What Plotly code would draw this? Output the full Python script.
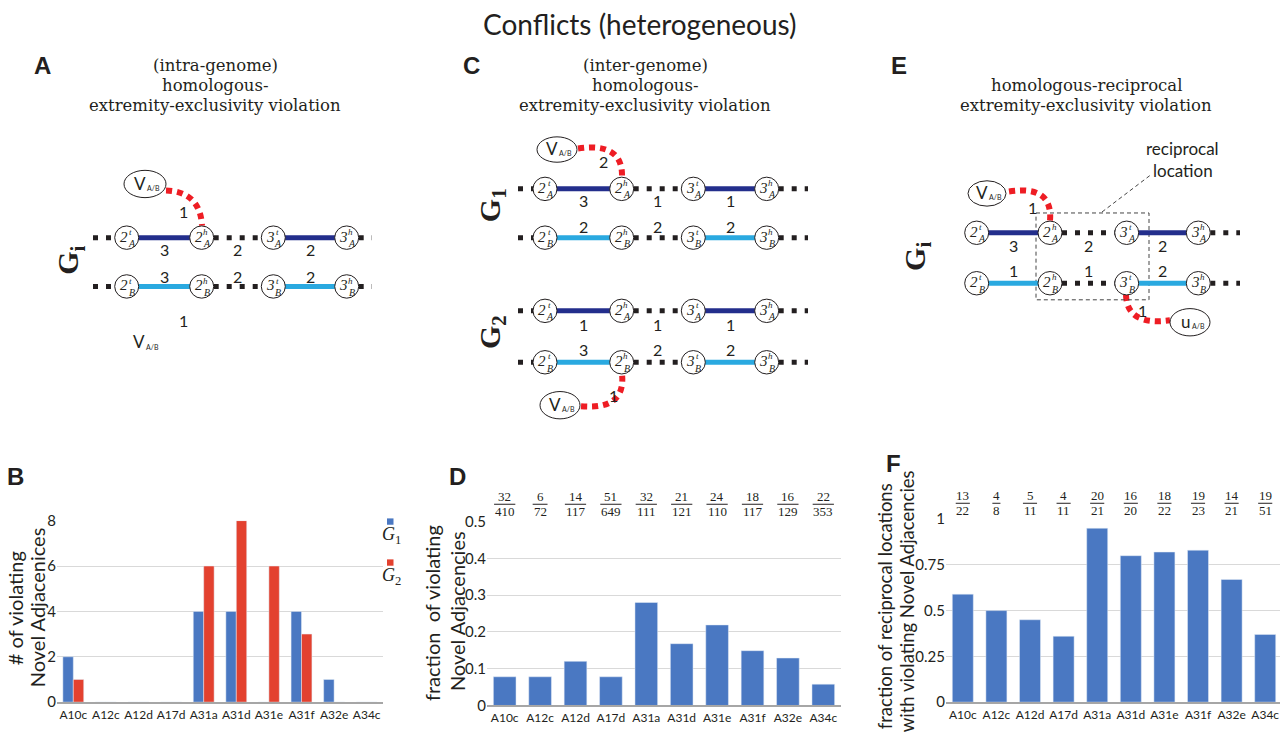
import plotly.graph_objects as go

W, H = 1280, 744

# ---------------- data ----------------
categories = ["A10c", "A12c", "A12d", "A17d", "A31a", "A31d", "A31e", "A31f", "A32e", "A34c"]
b_g1 = [2, 0, 0, 0, 4, 4, 0, 4, 1, 0]
b_g2 = [1, 0, 0, 0, 6, 8, 6, 3, 0, 0]
b_yticks = [0, 2, 4, 6, 8]
d_frac = [0.078, 0.078, 0.12, 0.078, 0.28, 0.168, 0.219, 0.149, 0.129, 0.058]
d_num = [32, 6, 14, 51, 32, 21, 24, 18, 16, 22]
d_den = [410, 72, 117, 649, 111, 121, 110, 117, 129, 353]
d_yticks = [0, 0.1, 0.2, 0.3, 0.4, 0.5]
f_frac = [0.59, 0.50, 0.45, 0.36, 0.95, 0.80, 0.82, 0.83, 0.67, 0.37]
f_num = [13, 4, 5, 4, 20, 16, 18, 19, 14, 19]
f_den = [22, 8, 11, 11, 21, 20, 22, 23, 21, 51]
f_yticks = [0, 0.25, 0.5, 0.75, 1]
f_yticktext = ["0", "0.25", "0.5", "0.75", "1"]

# ---------------- style ----------------
SANS = "Lato"
SERIF = "DejaVu Serif"
TSERIF = "Liberation Serif"
BOLD = "Liberation Sans"
INK = "#231F20"
BAR_BLUE = "#4A78C2"
BAR_RED = "#E3412F"
DARK = "#232E8C"
LIGHT = "#2AA9E0"
RED = "#EE1D24"
GRID = "#D9D9D9"


def fx(x):
    return x / W


def fy(y):
    return 1 - y / H


fig = go.Figure()

# ---------------- bar charts ----------------
fig.add_trace(go.Bar(x=categories, y=b_g1, marker_color=BAR_BLUE, name="G1",
                     xaxis="x", yaxis="y", showlegend=False))
fig.add_trace(go.Bar(x=categories, y=b_g2, marker_color=BAR_RED, name="G2",
                     xaxis="x", yaxis="y", showlegend=False))
fig.add_trace(go.Bar(x=categories, y=d_frac, marker_color=BAR_BLUE, width=0.64,
                     xaxis="x2", yaxis="y2", showlegend=False))
fig.add_trace(go.Bar(x=categories, y=f_frac, marker_color=BAR_BLUE, width=0.625,
                     xaxis="x3", yaxis="y3", showlegend=False))
# invisible anchor for the drawing overlay
fig.add_trace(go.Scatter(x=[0], y=[0], xaxis="x4", yaxis="y4", mode="markers",
                         marker=dict(opacity=0), hoverinfo="skip", showlegend=False))

xcommon = dict(type="category", showgrid=False, showline=True, linecolor="#A6A6A6",
               linewidth=2, ticks="", tickfont=dict(family=SANS, size=12, color=INK),
               fixedrange=True)
ycommon = dict(showgrid=True, gridcolor=GRID, gridwidth=1, zeroline=False, showline=False,
               ticks="", tickfont=dict(family=SANS, size=15, color=INK), fixedrange=True)

fig.update_layout(
    xaxis=dict(domain=[fx(57), fx(383)], anchor="y", range=[-0.5, 9.5], **xcommon),
    yaxis=dict(domain=[fy(709.3), fy(523.3)], anchor="x", range=[0, 8], tickvals=b_yticks, **ycommon),
    xaxis2=dict(domain=[fx(487), fx(841)], anchor="y2", range=[-0.5, 9.5], **xcommon),
    yaxis2=dict(domain=[fy(712.7), fy(524.3)], anchor="x2", range=[0, 0.5], tickvals=d_yticks, **ycommon),
    xaxis3=dict(domain=[fx(946), 1.0], anchor="y3", range=[-0.5, 9.44], **xcommon),
    yaxis3=dict(domain=[fy(709.3), fy(521.7)], anchor="x3", range=[0, 1], tickvals=f_yticks,
                ticktext=f_yticktext, **ycommon),
    xaxis4=dict(domain=[0, 1], anchor="y4", range=[0, W], visible=False, fixedrange=True),
    yaxis4=dict(domain=[0, 1], anchor="x4", range=[H, 0], visible=False, fixedrange=True),
    barmode="group", bargap=0.36, bargroupgap=0,
    width=W, height=H, autosize=False,
    margin=dict(l=0, r=0, t=0, b=0),
    paper_bgcolor="white", plot_bgcolor="rgba(0,0,0,0)",
    showlegend=False,
)

shapes = []
annots = []


def txt(x, y, s, size, family=SANS, color=INK, angle=0, xanchor="center"):
    annots.append(dict(x=x, y=y, xref="x4", yref="y4", text=s, showarrow=False,
                       font=dict(size=size, family=family, color=color),
                       xanchor=xanchor, yanchor="middle", textangle=angle))


def line(x0, y0, x1, y1, color, width, dash="solid"):
    shapes.append(dict(type="line", xref="x4", yref="y4", x0=x0, y0=y0, x1=x1, y1=y1,
                       line=dict(color=color, width=width, dash=dash), layer="above"))


def oval(cx, cy, rx, ry):
    shapes.append(dict(type="circle", xref="x4", yref="y4", x0=cx - rx, x1=cx + rx,
                       y0=cy - ry, y1=cy + ry, fillcolor="white",
                       line=dict(color=INK, width=1), layer="above"))


def curve(p0, c, p1):
    shapes.append(dict(type="path", xref="x4", yref="y4",
                       path=f"M {p0[0]},{p0[1]} Q {c[0]},{c[1]} {p1[0]},{p1[1]}",
                       line=dict(color=RED, width=6, dash="6px,5px"), layer="above"))


DOT = "5px,8px"
R = 12


def node(cx, cy, num, sup, sub):
    oval(cx, cy, R, R)
    txt(cx - 3, cy - 1, f"<i>{num}</i>", 15, TSERIF)
    txt(cx + 4, cy - 6, f"<i>{sup}</i>", 9, TSERIF)
    txt(cx + 5, cy + 6, f"<i>{sub}</i>", 10, TSERIF)


def row(xs, y, color, sub, labels, dy, left=None, right=None):
    if left is not None:
        line(left, y, xs[0] - R, y, INK, 5, DOT)
    line(xs[0], y, xs[1], y, color, 5)
    line(xs[1] + R, y, xs[2] - R, y, INK, 5, DOT)
    line(xs[2], y, xs[3], y, color, 5)
    if right is not None:
        line(xs[3] + R, y, right, y, INK, 5, DOT)
    for x, (n, s) in zip(xs, [("2", "t"), ("2", "h"), ("3", "t"), ("3", "h")]):
        node(x, y, n, s, sub)
    mids = [(xs[0] + xs[1]) / 2, (xs[1] + xs[2]) / 2, (xs[2] + xs[3]) / 2]
    for m, lab in zip(mids, labels):
        txt(m, y + dy, lab, 16)


def vnode(cx, cy, letter, rx=20, ry=13):
    oval(cx, cy, rx, ry)
    txt(cx - 5, cy - 1, letter, 17)
    txt(cx + 8, cy + 4, "A/B", 7)


# ---------------- header ----------------
txt(640, 14, "Conflicts (heterogeneous)", 28)
for lx, lab in [(42, "A"), (471, "C"), (899, "E")]:
    txt(lx, 57, f"<b>{lab}</b>", 24, BOLD)
for lx, ly, lab in [(15, 478, "B"), (457, 478, "D"), (893, 465, "F")]:
    txt(lx, ly, f"<b>{lab}</b>", 24, BOLD)

for cx, lines in [(215, ["(intra-genome)", "homologous-", "extremity-exclusivity violation"]),
                  (645, ["(inter-genome)", "homologous-", "extremity-exclusivity violation"])]:
    for i, s in enumerate(lines):
        txt(cx, 57 + i * 20.5, s, 16.5, SERIF)
for i, s in enumerate(["homologous-reciprocal", "extremity-exclusivity violation"]):
    txt(1086, 77 + i * 21, s, 16.5, SERIF)

# ---------------- diagram A ----------------
xa = [126.7, 201.7, 273.3, 346.7]
curve((166, 185), (200, 186), (202, 221))
row(xa, 233.3, DARK, "A", ["3", "2", "2"], 12, left=93, right=372)
row(xa, 283.3, LIGHT, "B", ["3", "2", "2"], -10, left=93, right=372)
vnode(145, 178.3, "V", 21, 14)
txt(183, 206, "1", 16)
txt(183, 318, "1", 16)
txt(139, 340, "V", 17)
txt(152, 345, "A/B", 7)
txt(70, 257, "<b>G<sub>i</sub></b>", 30, TSERIF, angle=-90)

# ---------------- diagram C ----------------
xc = [545, 621.7, 693.3, 766.7]
curve((578, 142), (623, 135), (622, 171))
curve((581, 406), (626, 410), (622, 373))
row(xc, 183.3, DARK, "A", ["3", "1", "1"], 12, left=518, right=808)
row(xc, 233.3, LIGHT, "B", ["2", "2", "2"], -11, left=518, right=808)
row(xc, 308.3, DARK, "A", ["1", "1", "1"], 14, left=518, right=808)
row(xc, 361, LIGHT, "B", ["3", "2", "2"], -13, left=518, right=808)
vnode(557, 143, "V", 20, 13)
vnode(560, 405, "V", 20, 14)
txt(603, 155, "2", 16)
txt(613, 395, "1", 16)
txt(492, 200, "<b>G<sub>1</sub></b>", 30, TSERIF, angle=-90)
txt(492, 330, "<b>G<sub>2</sub></b>", 30, TSERIF, angle=-90)

# ---------------- diagram E ----------------
xe = [976.7, 1050, 1126.7, 1198.3]
curve((1009, 186), (1053, 179), (1050, 216))
curve((1126, 292), (1127, 324), (1170, 318))
shapes.append(dict(type="rect", xref="x4", yref="y4", x0=1036, y0=208, x1=1149, y1=297,
                   line=dict(color="#444", width=1, dash="4px,3px"), layer="above"))
line(1102, 207, 1152, 168, "#444", 1, "4px,3px")
row(xe, 228.3, DARK, "A", ["3", "2", "2"], 13, right=1240)
row(xe, 280, LIGHT, "B", ["1", "1", "2"], -13, right=1240)
vnode(987, 188, "V", 19, 13)
vnode(1190, 320, "u", 20, 14)
txt(1032, 202, "1", 16)
txt(1142, 308, "1", 16)
txt(1182, 142, "reciprocal", 17)
txt(1183, 164, "location", 17)
txt(917, 253, "<b>G<sub>i</sub></b>", 30, TSERIF, angle=-90)

# ---------------- chart axis titles (one annotation per line) ----------------
txt(15, 613, "# of violating", 20, angle=-90)
txt(37, 612, "Novel Adjacenices", 20, angle=-90)
txt(432, 618, "fraction  of violating", 20, angle=-90)
txt(457, 616, "Novel Adjacencies", 20, angle=-90)
txt(885, 611, "fraction of reciprocal locations", 18.5, angle=-90)
txt(907, 606, "with violating Novel Adjacencies", 18.5, angle=-90)

# legend of B
shapes.append(dict(type="rect", xref="x4", yref="y4", x0=387, y0=521, x1=393.5, y1=527.5,
                   fillcolor=BAR_BLUE, line=dict(width=0), layer="above"))
shapes.append(dict(type="rect", xref="x4", yref="y4", x0=387, y0=563, x1=393.5, y1=569.5,
                   fillcolor=BAR_RED, line=dict(width=0), layer="above"))
txt(391, 539, "<i>G</i><sub>1</sub>", 18, TSERIF)
txt(391, 581, "<i>G</i><sub>2</sub>", 18, TSERIF)

# fractions above bars in D and F
for xr, nums, dens, yn, yd, yl in [("x2", d_num, d_den, 499, 514, 506.5),
                                   ("x3", f_num, f_den, 498, 513, 505.5)]:
    for i, (n, d) in enumerate(zip(nums, dens)):
        annots.append(dict(x=categories[i], y=yn, xref=xr, yref="y4", text=str(n),
                           showarrow=False, font=dict(size=13, family=TSERIF, color=INK),
                           yanchor="middle"))
        annots.append(dict(x=categories[i], y=yd, xref=xr, yref="y4", text=str(d),
                           showarrow=False, font=dict(size=13, family=TSERIF, color=INK),
                           yanchor="middle"))
        half = 0.09 * max(len(str(n)), len(str(d))) + 0.03
        shapes.append(dict(type="line", xref=xr, yref="y4", x0=i - half, x1=i + half,
                           y0=yl, y1=yl, line=dict(color=INK, width=1), layer="above"))

fig.update_layout(shapes=shapes, annotations=annots)

fig.write_html("out.html", config={"displayModeBar": False},
               post_script="document.body.style.margin='0';document.body.style.overflow='hidden';")
